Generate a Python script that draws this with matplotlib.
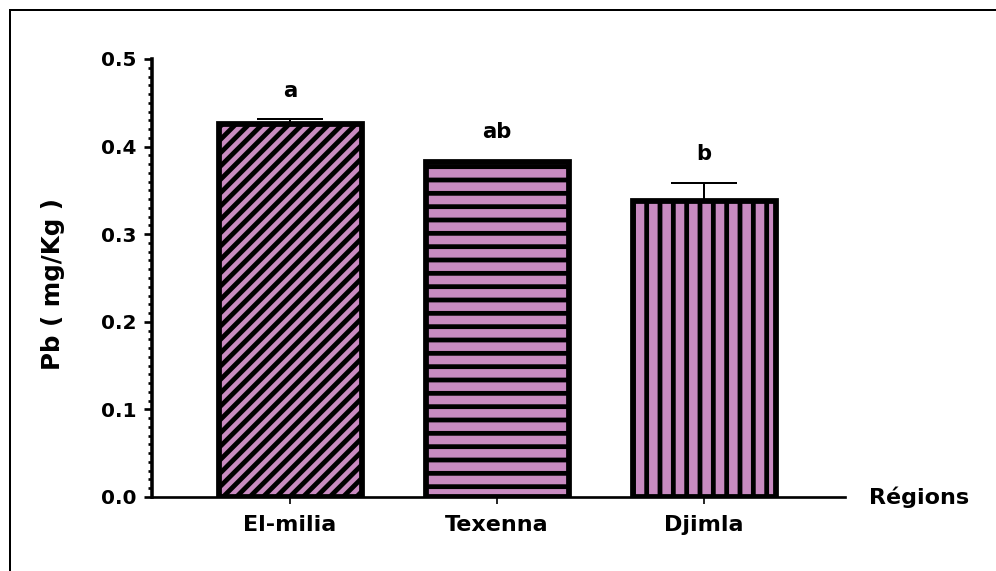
import numpy as np
import matplotlib.pyplot as plt
from matplotlib.patches import Rectangle
from matplotlib.ticker import MultipleLocator

# Pb content per region (mean and upper error)
regions = ["El-milia", "Texenna", "Djimla"]
pb_mean = [0.426, 0.382, 0.338]
pb_err = [0.005, 0.002, 0.021]
groups = ["a", "ab", "b"]
hatches = ["//", "-", "|"]

DPI = 80
plt.rcParams['font.family'] = ['DejaVu Sans']
plt.rcParams['font.weight'] = 'bold'
plt.rcParams['hatch.linewidth'] = 4.3

fig = plt.figure(figsize=(996 / DPI, 571 / DPI), dpi=DPI)
ax = fig.add_axes([152 / 996, 74 / 571, (845 - 152) / 996, (497 - 59) / 571])

x = np.arange(len(regions))
bars = ax.bar(x, pb_mean, width=0.69, color='#c98bc1', edgecolor='black',
              linewidth=5.2, zorder=2)
for b, h in zip(bars, hatches):
    b.set_hatch(h)

# only the upper half of the error bars is drawn
ax.errorbar(x, pb_mean, yerr=[np.zeros(len(x)), pb_err], fmt='none',
            ecolor='black', elinewidth=1.8, capsize=30, capthick=1.8, zorder=3)

for xi, m, e, g in zip(x, pb_mean, pb_err, groups):
    ax.text(xi, m + e + 0.033, g, ha='center', va='center', fontsize=19,
            fontweight='bold')

ax.set_xlim(-0.667, 2.68)
ax.set_ylim(0, 0.5)
ax.yaxis.set_major_locator(MultipleLocator(0.1))
ax.yaxis.set_minor_locator(MultipleLocator(0.01))
ax.set_yticks(np.arange(0, 0.51, 0.1))
ax.set_yticklabels([f"{v:.1f}" for v in np.arange(0, 0.51, 0.1)])
ax.set_xticks(x)
ax.set_xticklabels(regions)

ax.spines['top'].set_visible(False)
ax.spines['right'].set_visible(False)
ax.spines['left'].set_linewidth(3.2)
ax.spines['bottom'].set_linewidth(2.4)
ax.tick_params(axis='y', which='major', length=7, width=2.4, labelsize=18, pad=7)
ax.tick_params(axis='y', which='minor', length=4, width=2.4)
ax.tick_params(axis='x', length=6, width=1.5, labelsize=20, pad=10)

ax.set_ylabel("Pb ( mg/Kg )", fontsize=22, fontweight='bold')
ax.yaxis.set_label_coords(-0.125, 0.486)
ax.text(1.035, 0.0, "Régions", transform=ax.transAxes, ha='left', va='center',
        fontsize=20, fontweight='bold')

# frame around the whole picture
fig.patches.append(Rectangle((10 / 996, -0.1), 1.2, 1.1 - 10 / 571,
                             transform=fig.transFigure, fill=False,
                             edgecolor='black', linewidth=1.8))

fig.savefig("out.png", dpi=DPI)
